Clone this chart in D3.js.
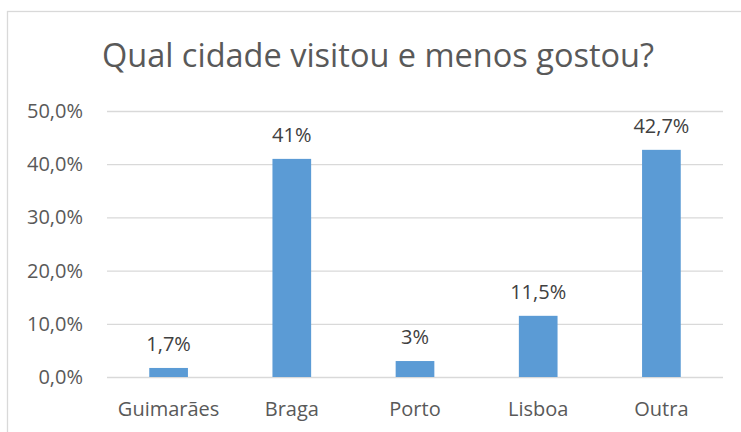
<!DOCTYPE html>
<html lang="pt">
<head>
    <meta charset="UTF-8">
    <title>Qual cidade visitou e menos gostou?</title>
    <style>
        body {
            margin: 0;
            background: #ffffff;
            overflow: hidden;
        }
        svg {
            display: block;
        }
        svg text {
            font-family: "Open Sans", "Liberation Sans", sans-serif;
        }
        .grid line {
            stroke: #d9d9d9;
            stroke-width: 1.3px;
        }
        .tick text {
            fill: #595959;
        }
    </style>
</head>
<body>

<svg id="chart" width="741" height="432"></svg>

<script src="https://d3js.org/d3.v7.min.js"></script>
<script>
    // data
    const cities = ["Guimarães", "Braga", "Porto", "Lisboa", "Outra"];
    const shares = [1.7, 41, 3, 11.5, 42.7];
    const shareLabels = ["1,7%", "41%", "3%", "11,5%", "42,7%"];
    const yTicks = [0, 10, 20, 30, 40, 50];
    const yTickLabels = ["0,0%", "10,0%", "20,0%", "30,0%", "40,0%", "50,0%"];
    const chartTitle = "Qual cidade visitou e menos gostou?";

    const svg = d3.select("#chart");

    const plot = {left: 107, right: 723, top: 111, bottom: 377};

    // chart frame (only left and top edges are inside the picture)
    svg.append("rect")
        .attr("x", 7.5)
        .attr("y", 11.5)
        .attr("width", 780)
        .attr("height", 460)
        .attr("fill", "none")
        .attr("stroke", "#d9d9d9")
        .attr("stroke-width", 1.3);

    const x = d3.scaleBand()
        .domain(cities)
        .range([plot.left, plot.right])
        .paddingInner(0.686)
        .paddingOuter(0.343);

    const y = d3.scaleLinear()
        .domain([0, 50])
        .range([plot.bottom, plot.top]);

    // gridlines + y labels
    const yAxis = d3.axisLeft(y)
        .tickValues(yTicks)
        .tickSize(-(plot.right - plot.left))
        .tickPadding(24)
        .tickFormat((d, i) => yTickLabels[i]);

    svg.append("g")
        .attr("class", "grid")
        .attr("transform", `translate(${plot.left},0)`)
        .call(yAxis)
        .attr("font-family", null)
        .attr("font-size", null)
        .call(g => g.select(".domain").remove())
        .call(g => g.selectAll("text").style("font-size", "20px"));

    // bars
    svg.append("g")
        .selectAll("rect")
        .data(cities)
        .enter()
        .append("rect")
        .attr("x", d => x(d))
        .attr("width", x.bandwidth())
        .attr("y", (d, i) => y(shares[i]))
        .attr("height", (d, i) => y(0) - y(shares[i]))
        .attr("fill", "#5b9bd5");

    // value labels
    svg.append("g")
        .selectAll("text")
        .data(cities)
        .enter()
        .append("text")
        .attr("x", d => x(d) + x.bandwidth() / 2)
        .attr("y", (d, i) => y(shares[i]) - 17)
        .attr("text-anchor", "middle")
        .style("font-size", "20px")
        .attr("fill", "#404040")
        .text((d, i) => shareLabels[i]);

    // x axis labels
    const xAxis = d3.axisBottom(x)
        .tickSize(0)
        .tickPadding(25);

    svg.append("g")
        .attr("transform", `translate(0,${plot.bottom})`)
        .call(xAxis)
        .attr("font-family", null)
        .attr("font-size", null)
        .call(g => g.select(".domain").remove())
        .call(g => g.selectAll("text").style("font-size", "20px"));

    // title
    svg.append("text")
        .attr("x", 378)
        .attr("y", 67)
        .attr("text-anchor", "middle")
        .style("font-size", "32.5px")
        .attr("fill", "#595959")
        .text(chartTitle);
</script>

</body>
</html>
